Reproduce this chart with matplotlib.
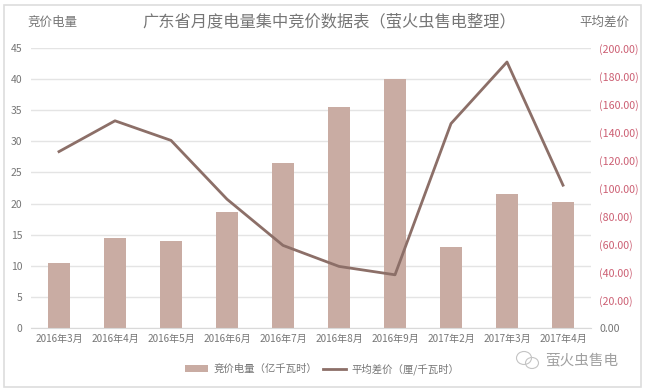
import matplotlib
matplotlib.use('Agg')
import matplotlib.pyplot as plt
from matplotlib.patches import Rectangle, Ellipse

plt.rcParams['font.family'] = ['Noto Sans CJK SC', 'DejaVu Sans']

months = ["2016年3月", "2016年4月", "2016年5月", "2016年6月", "2016年7月",
          "2016年8月", "2016年9月", "2017年2月", "2017年3月", "2017年4月"]
volume = [10.5, 14.5, 14.0, 18.7, 26.5, 35.5, 40.0, 13.0, 21.6, 20.2]
spread = [126, 148, 134, 92, 59, 44, 38, 146, 190, 102]
left_ticks = [0, 5, 10, 15, 20, 25, 30, 35, 40, 45]
right_ticks = [0, 20, 40, 60, 80, 100, 120, 140, 160, 180, 200]

BAR_COLOR = '#c9aca3'
LINE_COLOR = '#8c6f68'
TEXT_COLOR = '#767676'
RED = '#cc5f73'


def fmt_right(v):
    if v == 0:
        return "0.00"
    return f"({v:.2f})"


def main():
    fig = plt.figure(figsize=(6.45, 3.92), dpi=100)
    fig.add_artist(Rectangle((0.006, 0.012), 0.988, 0.976, transform=fig.transFigure,
                             fill=False, edgecolor='#dddddd', linewidth=1.2))

    ax = fig.add_axes([31 / 645, 1 - 328 / 392, (591 - 31) / 645, (328 - 48) / 392])
    xs = list(range(len(months)))
    bars = ax.bar(xs, volume, width=0.4, color=BAR_COLOR, zorder=2)
    ax.set_xlim(-0.5, len(months) - 0.5)
    ax.set_ylim(0, 45)
    ax.set_yticks(left_ticks)
    ax.set_xticks(xs)
    ax.set_xticklabels(months)
    ax.tick_params(axis='x', length=0, labelsize=7.2, labelcolor=TEXT_COLOR, pad=4)
    ax.tick_params(axis='y', length=0, labelsize=7.5, labelcolor=TEXT_COLOR, pad=6)
    ax.grid(axis='y', color='#e4e4e4', linewidth=1, zorder=0)
    ax.set_axisbelow(True)
    for name in ['top', 'left', 'right']:
        ax.spines[name].set_visible(False)
    ax.spines['bottom'].set_color('#d9d9d9')

    ax2 = ax.twinx()
    line, = ax2.plot(xs, spread, color=LINE_COLOR, linewidth=2.0, zorder=3)
    ax2.set_ylim(0, 200)
    ax2.set_yticks(right_ticks)
    ax2.set_yticklabels([fmt_right(v) for v in right_ticks])
    ax2.tick_params(axis='y', length=0, labelsize=7.7, pad=6)
    for v, lab in zip(right_ticks, ax2.get_yticklabels()):
        lab.set_color(TEXT_COLOR if v == 0 else RED)
    for spine in ax2.spines.values():
        spine.set_visible(False)

    fig.text(329 / 645, 1 - 22 / 392, "广东省月度电量集中竞价数据表（萤火虫售电整理）",
             ha='center', va='center', fontsize=11.7, color=TEXT_COLOR)
    fig.text(52 / 645, 1 - 22 / 392, "竞价电量", ha='center', va='center',
             fontsize=9, color=TEXT_COLOR)
    fig.text(604 / 645, 1 - 22 / 392, "平均差价", ha='center', va='center',
             fontsize=9, color=TEXT_COLOR)

    fig.legend([bars, line], ["竞价电量（亿千瓦时）", "平均差价（厘/千瓦时）"],
               loc='center', bbox_to_anchor=(322 / 645, 1 - 369 / 392), ncol=2,
               frameon=False, fontsize=7.5, labelcolor=TEXT_COLOR,
               handlelength=2.2, handleheight=0.6, columnspacing=0.6, handletextpad=0.5)

    # watermark: chat bubble icon and account name
    for cx, cy, w, h in [(524, 358, 15, 13), (532, 363, 13, 11)]:
        fig.add_artist(Ellipse((cx / 645, 1 - cy / 392), w / 645, h / 392,
                               transform=fig.transFigure, fill=False,
                               edgecolor='#c4c4c4', linewidth=0.8))
    fig.text(582 / 645, 1 - 360 / 392, "萤火虫售电", ha='center', va='center',
             fontsize=10.5, color='#a0a0a0')

    fig.savefig('out.png', dpi=100)


if __name__ == "__main__":
    main()
